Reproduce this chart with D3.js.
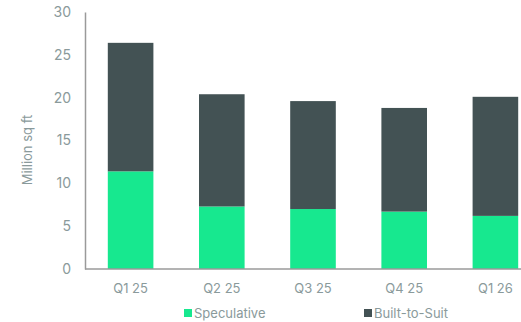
<!DOCTYPE html>
<html>
<head>
<meta charset="utf-8">
<script src="https://cdn.jsdelivr.net/npm/d3@7"></script>
<style>
  body { margin: 0; background: #fff; }
  svg text { font-family: Inter, "Open Sans", sans-serif; fill: #8a9a9b; }
</style>
</head>
<body>
<div id="chart"></div>
<script>
// Chart data
const quarters = ["Q1 25", "Q2 25", "Q3 25", "Q4 25", "Q1 26"];
const speculative = [11.4, 7.3, 7.0, 6.7, 6.2];
const builtToSuit = [15.0, 13.1, 12.6, 12.1, 13.9];
const seriesNames = ["Speculative", "Built-to-Suit"];
const seriesColors = ["#17e88f", "#435254"];
const yTicks = [0, 5, 10, 15, 20, 25, 30];

const width = 521, height = 322;

const svg = d3.select("#chart").append("svg")
    .attr("width", width)
    .attr("height", height);

const x = d3.scaleBand()
    .domain(quarters)
    .range([85, 541])
    .paddingInner(0.5)
    .paddingOuter(0.25);

const y = d3.scaleLinear()
    .domain([0, 30])
    .range([269, 12]);

// build rows for the stack
const rows = quarters.map((q, i) => ({
    quarter: q,
    "Speculative": speculative[i],
    "Built-to-Suit": builtToSuit[i]
}));

const stacked = d3.stack().keys(seriesNames)(rows);

svg.append("g")
    .selectAll("g")
    .data(stacked)
    .enter()
    .append("g")
    .attr("fill", (d, i) => seriesColors[i])
    .selectAll("rect")
    .data(d => d)
    .enter()
    .append("rect")
    .attr("x", d => x(d.data.quarter))
    .attr("y", d => y(d[1]))
    .attr("width", x.bandwidth())
    .attr("height", d => y(d[0]) - y(d[1]));

// Y axis
const yAxis = svg.append("g")
    .attr("transform", "translate(85,0)")
    .call(d3.axisLeft(y).tickValues(yTicks).tickSize(0).tickPadding(14));
yAxis.select(".domain").attr("stroke", "#9a9a9a").attr("stroke-width", 1.5);
yAxis.selectAll("text").style("font-size", "14px").attr("fill", "#8a9a9b");

// X axis
const xAxis = svg.append("g")
    .attr("transform", "translate(0,269)")
    .call(d3.axisBottom(x).tickSize(0).tickPadding(15));
xAxis.select(".domain").attr("d", "M85,0H521").attr("stroke", "#9a9a9a").attr("stroke-width", 1.5);
xAxis.selectAll("text").style("font-size", "13px").attr("fill", "#8a9a9b");

// Y axis title
svg.append("text")
    .attr("transform", "translate(32,150) rotate(-90)")
    .attr("text-anchor", "middle")
    .style("font-size", "13px")
    .text("Million sq ft");

// Legend
const legendX = [184, 364];
const legend = svg.append("g");
seriesNames.forEach((name, i) => {
    legend.append("rect")
        .attr("x", legendX[i])
        .attr("y", 309)
        .attr("width", 8)
        .attr("height", 8)
        .attr("fill", seriesColors[i]);
    legend.append("text")
        .attr("x", legendX[i] + 10)
        .attr("y", 317.5)
        .style("font-size", "13px")
        .text(name);
});
</script>
</body>
</html>
